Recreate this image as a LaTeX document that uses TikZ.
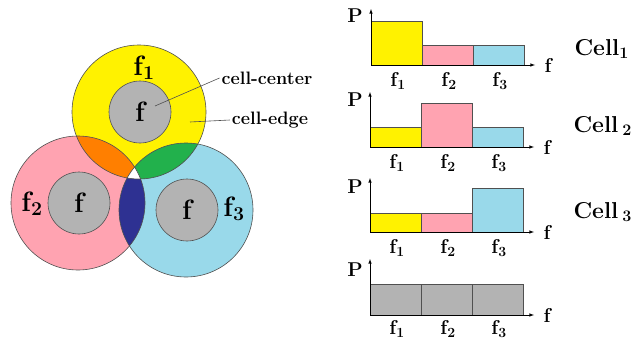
\documentclass[tikz,border=0pt]{standalone}
\usepackage{fontspec}
\usetikzlibrary{arrows,positioning}
\definecolor{yel}{RGB}{255,242,0}
\definecolor{rose}{RGB}{255,163,177}
\definecolor{sky}{RGB}{153,217,234}
\definecolor{amber}{RGB}{255,127,0}
\definecolor{leaf}{RGB}{34,177,76}
\definecolor{navy}{RGB}{46,49,146}
\definecolor{grey}{RGB}{179,179,179}
\definecolor{edge}{RGB}{80,80,80}
\tikzset{
  ring/.style={draw=edge,line width=0.6pt},
  core/.style={circle,draw=edge,fill=grey,line width=0.6pt,minimum size=62pt,inner sep=0pt,
    font=\fontsize{28}{30}\selectfont\bfseries},
  band/.style={font=\fontsize{28}{30}\selectfont\bfseries},
  note/.style={font=\fontsize{18}{20}\selectfont\bfseries,inner sep=2pt},
  bar/.style={draw=edge,line width=0.8pt},
  axis/.style={->,line width=0.6pt},
  tick/.style={font=\fontsize{20}{22}\selectfont\bfseries},
  cell/.style={font=\fontsize{23}{25}\selectfont\bfseries,anchor=west}
}
\begin{document}
\begin{tikzpicture}[x=1pt,y=-1pt,>=latex]
\useasboundingbox (0,0) rectangle (632,340);
% cells
\coordinate (c_1) at (139,112);
\coordinate (c_2) at (78,203);
\coordinate (c_3) at (186,210);
\fill[yel] (c_1) circle[radius=67pt];
\fill[rose] (c_2) circle[radius=67pt];
\fill[sky] (c_3) circle[radius=67pt];
\begin{scope}
  \clip (c_1) circle[radius=67pt];
  \fill[amber] (c_2) circle[radius=67pt];
  \fill[leaf] (c_3) circle[radius=67pt];
\end{scope}
\begin{scope}
  \clip (c_2) circle[radius=67pt];
  \fill[navy] (c_3) circle[radius=67pt];
\end{scope}
\begin{scope}
  \clip (c_1) circle[radius=67pt];
  \clip (c_2) circle[radius=67pt];
  \fill[white] (c_3) circle[radius=67pt];
\end{scope}
\draw[ring] (c_1) circle[radius=67pt];
\draw[ring] (c_2) circle[radius=67pt];
\draw[ring] (c_3) circle[radius=67pt];
\node[core] (k_1) at (140,112) {f};
\node[core] (k_2) at (79,203) {f};
\node[core] (k_3) at (187,210) {f};
\node[band] (b_1) at (144,68) {f\textsubscript{1}};
\node[band] (b_2) at (32,204) {f\textsubscript{2}};
\node[band] (b_3) at (234,209) {f\textsubscript{3}};
\coordinate (pc) at (155,106);
\coordinate (pe) at (190,122);
\node[note] (lc) at (267,78) {cell-center};
\node[note] (le) at (270,120) {cell-edge};
\draw[edge,line width=0.6pt] (pc) -- (lc.west);
\draw[edge,line width=0.6pt] (pe) -- (le.west);
% spectrum of cell 1
\draw[bar,fill=yel] (371,65) rectangle (422,21);
\draw[bar,fill=rose] (422,65) rectangle (473,45);
\draw[bar,fill=sky] (473,65) rectangle (524,45);
\coordinate (o_1) at (371,65);
\coordinate (y_1) at (371,9);
\coordinate (x_1) at (535,65);
\draw[axis] (o_1) -- (y_1);
\draw[axis] (o_1) -- (x_1);
\node[tick] (p_1) at (355,16) {P};
\node[tick] (f_1) at (548,65) {f};
\node[tick] (t_11) at (398,81) {f\textsubscript{1}};
\node[tick] (t_12) at (449,81) {f\textsubscript{2}};
\node[tick] (t_13) at (500,81) {f\textsubscript{3}};
\node[cell] (n_1) at (571,49) {Cell\textsubscript{1}};
% spectrum of cell 2
\draw[bar,fill=yel] (370,147) rectangle (421,127);
\draw[bar,fill=rose] (421,147) rectangle (472,103);
\draw[bar,fill=sky] (472,147) rectangle (523,127);
\coordinate (o_2) at (370,147);
\coordinate (y_2) at (370,92);
\coordinate (x_2) at (534,147);
\draw[axis] (o_2) -- (y_2);
\draw[axis] (o_2) -- (x_2);
\node[tick] (p_2) at (355,100) {P};
\node[tick] (f_2) at (547,147) {f};
\node[tick] (t_21) at (397,163) {f\textsubscript{1}};
\node[tick] (t_22) at (448,163) {f\textsubscript{2}};
\node[tick] (t_23) at (499,163) {f\textsubscript{3}};
\node[cell] (n_2) at (570,126) {Cell\,\textsubscript{2}};
% spectrum of cell 3
\draw[bar,fill=yel] (370,232) rectangle (421,213);
\draw[bar,fill=rose] (421,232) rectangle (472,213);
\draw[bar,fill=sky] (472,232) rectangle (523,188);
\coordinate (o_3) at (370,232);
\coordinate (y_3) at (370,178);
\coordinate (x_3) at (534,232);
\draw[axis] (o_3) -- (y_3);
\draw[axis] (o_3) -- (x_3);
\node[tick] (p_3) at (355,187) {P};
\node[tick] (f_3) at (547,232) {f};
\node[tick] (t_31) at (397,248) {f\textsubscript{1}};
\node[tick] (t_32) at (448,248) {f\textsubscript{2}};
\node[tick] (t_33) at (499,248) {f\textsubscript{3}};
\node[cell] (n_3) at (570,212) {Cell\,\textsubscript{3}};
% reuse of all bands
\draw[bar,fill=grey] (370,315) rectangle (421,284);
\draw[bar,fill=grey] (421,315) rectangle (472,284);
\draw[bar,fill=grey] (472,315) rectangle (523,284);
\coordinate (o_4) at (370,315);
\coordinate (y_4) at (370,259);
\coordinate (x_4) at (534,315);
\draw[axis] (o_4) -- (y_4);
\draw[axis] (o_4) -- (x_4);
\node[tick] (p_4) at (355,270) {P};
\node[tick] (f_4) at (547,315) {f};
\node[tick] (t_41) at (397,329) {f\textsubscript{1}};
\node[tick] (t_42) at (448,329) {f\textsubscript{2}};
\node[tick] (t_43) at (499,329) {f\textsubscript{3}};
\end{tikzpicture}
\end{document}
